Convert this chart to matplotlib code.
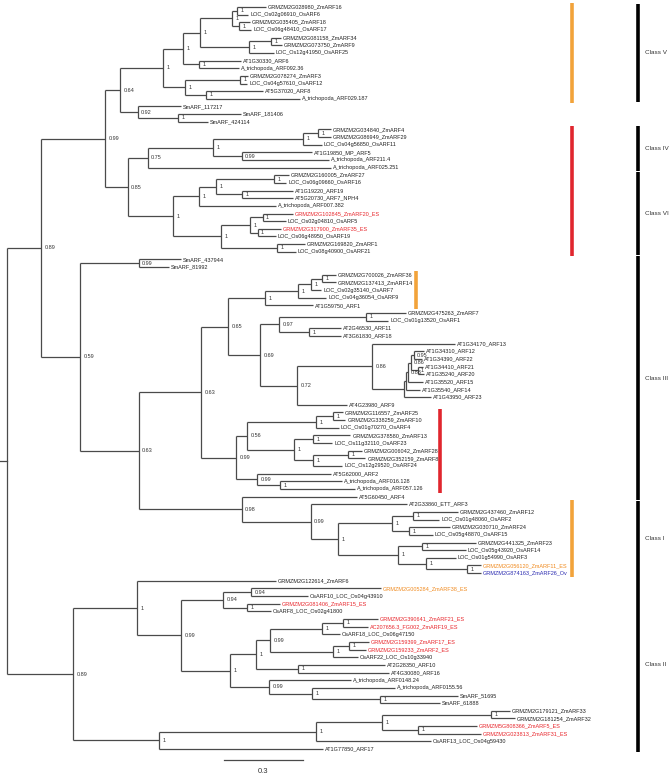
import re
import matplotlib.pyplot as plt

# ---- tree data (Newick pieces, branch lengths in substitutions/site, node labels = support) ----
CLASS_V = ("(((((GRMZM2G028980_ZmARF16:0.110,LOC_Os02g06910_OsARF6:0.042)1:0.019,"
           "(GRMZM2G035405_ZmARF18:0.042,LOC_Os06g48410_OsARF17:0.046)1:0.027)1:0.122,"
           "((GRMZM2G081158_ZmARF34:0.038,GRMZM2G073750_ZmARF9:0.042)1:0.084,"
           "LOC_Os12g41950_OsARF25:0.095)1:0.186)1:0.065,"
           "(AT1G30330_ARF6:0.160,A_trichopoda_ARF092.36:0.152)1:0.061)1:0.076,"
           "((GRMZM2G078274_ZmARF3:0.030,LOC_Os04g57610_OsARF12:0.027)1:0.209,"
           "(AT5G37020_ARF8:0.217,A_trichopoda_ARF029.187:0.357)1:0.080)1:0.084)1")
SM_A = "(SmARF_117217:0.163,(SmARF_181406:0.239,SmARF_424114:0.114)1:0.152)0.92"
CLASS_IV = ("((((GRMZM2G034840_ZmARF4:0.049,GRMZM2G086949_ZmARF29:0.049)1:0.057,"
            "LOC_Os04g56850_OsARF11:0.072)1:0.342,"
            "(AT1G19850_MP_ARF5:0.266,A_trichopoda_ARF211.4:0.330)0.99:0.110)1:0.247,"
            "A_trichopoda_ARF025.251:0.695)0.75")
CLASS_VI = ("((((GRMZM2G160005_ZmARF27:0.057,LOC_Os06g09660_OsARF16:0.046)1:0.220,"
            "(AT1G19220_ARF19:0.194,AT5G20730_ARF7_NPH4:0.194)1:0.099)1:0.065,"
            "A_trichopoda_ARF007.382:0.292)1:0.099,"
            "(((GRMZM2G102845_ZmARF20_ES:0.114,LOC_Os02g04810_OsARF5:0.087)1:0.049,"
            "(GRMZM2G317900_ZmARF35_ES:0.087,LOC_Os06g48950_OsARF19:0.068)1:0.030)1:0.110,"
            "(GRMZM2G169820_ZmARF1:0.106,LOC_Os08g40900_OsARF21:0.072)1:0.213)1:0.182)1")
SM_B = "(SmARF_437944:0.160,SmARF_81992:0.114)0.99"
ARF1_CLADE = ("((((GRMZM2G700026_ZmARF36:0.053,GRMZM2G137413_ZmARF14:0.053)1:0.042,"
              "LOC_Os02g35140_OsARF7:0.038)1:0.049,LOC_Os04g36054_OsARF9:0.106)1:0.125,"
              "AT1G59750_ARF1:0.182)1")
ARF11_CLADE = ("(((GRMZM2G475263_ZmARF7:0.152,LOC_Os01g13520_OsARF1:0.084)1:0.330,"
               "(AT2G46530_ARF11:0.122,AT3G61830_ARF18:0.122)1:0.114)0.97:0.072,"
               "((AT1G34170_ARF13:0.315,(((((AT1G34310_ARF12:0.038,AT1G34390_ARF22:0.034)0.95:0.011,"
               "(AT1G34410_ARF21:0.019,AT1G35240_ARF20:0.023)1:0.027)0.86:0.011,"
               "AT1G35520_ARF15:0.057)0.88:0.008,AT1G35540_ARF14:0.053):0.008,"
               "AT1G43950_ARF23:0.106):0.118)0.86:0.285,AT4G23980_ARF9:0.190)0.72:0.141)0.69")
ARF2_CLADE = ("((((GRMZM2G116557_ZmARF25:0.038,GRMZM2G338259_ZmARF10:0.046)1:0.065,"
              "LOC_Os01g70270_OsARF4:0.087)1:0.262,"
              "((GRMZM2G378580_ZmARF13:0.141,LOC_Os11g32110_OsARF23:0.072)1:0.072,"
              "((GRMZM2G006042_ZmARF28:0.053,GRMZM2G352159_ZmARF8:0.065)1:0.133,"
              "LOC_Os12g29520_OsARF24:0.110)1:0.072)1:0.179)0.56:0.042,"
              "(AT5G62000_ARF2:0.281,(A_trichopoda_ARF016.128:0.235,"
              "A_trichopoda_ARF057.126:0.285)1:0.087)0.99:0.080)0.99")
CLASS_I = ("(AT5G60450_ARF4:0.437,(AT2G33860_ETT_ARF3:0.365,"
           "(((GRMZM2G437460_ZmARF12:0.171,LOC_Os01g48060_OsARF2:0.099)1:0.080,"
           "(GRMZM2G030710_ZmARF24:0.156,LOC_Os05g48870_OsARF15:0.091)1:0.065)1:0.205,"
           "((GRMZM2G441325_ZmARF23:0.205,LOC_Os05g43920_OsARF14:0.167)1:0.091,"
           "(LOC_Os01g54990_OsARF3:0.114,(GRMZM2G056120_ZmARF11_ES:0.053,"
           "GRMZM2G874163_ZmARF26_Ov:0.053)1:0.156)1:0.106)1:0.228)1:0.103)0.99:0.262)0.98")
CLASS_II = ("((GRMZM2G122614_ZmARF6:0.528,(((GRMZM2G005284_ZmARF38_ES:0.494,"
            "OsARF10_LOC_Os04g43910:0.217)0.94:0.106,(GRMZM2G081406_ZmARF15_ES:0.125,"
            "OsARF8_LOC_Os02g41800:0.091)1:0.091)0.94:0.160,"
            "(((((GRMZM2G390641_ZmARF21_ES:0.133,AC207656.3_FG002_ZmARF19_ES:0.095)1:0.080,"
            "OsARF18_LOC_Os06g47150:0.068)1:0.198,((GRMZM2G159399_ZmARF17_ES:0.076,"
            "GRMZM2G159233_ZmARF2_ES:0.065)1:0.061,OsARF22_LOC_Os10g33940:0.095)1:0.239)0.99:0.053,"
            "(AT2G28350_ARF10:0.330,AT4G30080_ARF16:0.346)1:0.160)1:0.099,"
            "(A_trichopoda_ARF0148.24:0.311,(A_trichopoda_ARF0155.56:0.315,"
            "(SmARF_51695:0.296,SmARF_61888:0.228)1:0.258)1:0.163)0.99:0.148)1:0.186)0.99:0.167)1:0.243,"
            "((((GRMZM2G179121_ZmARF33:0.072,GRMZM2G181254_ZmARF32:0.091)1:0.414,"
            "(GRMZM5G808366_ZmARF5_ES:0.224,GRMZM2G023813_ZmARF31_ES:0.239)1:0.137)1:0.251,"
            "OsARF13_LOC_Os04g59430:0.437)1:0.596,AT1G77850_ARF17:0.623)1:0.327)0.89")

UPPER = f"(({CLASS_V}:0.163,{SM_A}:0.068)0.64:0.057,({CLASS_IV}:0.076,{CLASS_VI}:0.171)0.85:0.087)0.99"
CLASS_III_MAIN = f"(({ARF1_CLADE}:0.141,{ARF11_CLADE}:0.122)0.65:0.103,{ARF2_CLADE}:0.133)0.63"
LOWER = f"({SM_B}:0.224,({CLASS_III_MAIN}:0.236,{CLASS_I}:0.391)0.63:0.224)0.59"
TREE = f"(({UPPER}:0.243,{LOWER}:0.148)0.89:0.129,{CLASS_II}:0.251);"

# label colours
RED_TIPS = ["GRMZM2G102845_ZmARF20_ES", "GRMZM2G317900_ZmARF35_ES", "GRMZM2G081406_ZmARF15_ES",
            "GRMZM2G390641_ZmARF21_ES", "AC207656.3_FG002_ZmARF19_ES", "GRMZM2G159399_ZmARF17_ES",
            "GRMZM2G159233_ZmARF2_ES", "GRMZM5G808366_ZmARF5_ES", "GRMZM2G023813_ZmARF31_ES"]
ORANGE_TIPS = ["GRMZM2G056120_ZmARF11_ES", "GRMZM2G005284_ZmARF38_ES"]
BLUE_TIPS = ["GRMZM2G874163_ZmARF26_Ov"]

# class brackets (first / last leaf)
CLASS_NAMES = ["Class V", "Class IV", "Class VI", "Class III", "Class I", "Class II"]
CLASS_FIRST = ["GRMZM2G028980_ZmARF16", "GRMZM2G034840_ZmARF4", "GRMZM2G160005_ZmARF27",
               "SmARF_437944", "AT2G33860_ETT_ARF3", "GRMZM2G122614_ZmARF6"]
CLASS_LAST = ["A_trichopoda_ARF029.187", "A_trichopoda_ARF025.251", "LOC_Os08g40900_OsARF21",
              "AT5G60450_ARF4", "GRMZM2G874163_ZmARF26_Ov", "AT1G77850_ARF17"]

# coloured marker bars (first / last leaf, colour)
MARK_FIRST = ["GRMZM2G028980_ZmARF16", "GRMZM2G034840_ZmARF4", "GRMZM2G160005_ZmARF27",
              "GRMZM2G700026_ZmARF36", "GRMZM2G116557_ZmARF25", "AT2G33860_ETT_ARF3"]
MARK_LAST = ["A_trichopoda_ARF029.187", "A_trichopoda_ARF025.251", "LOC_Os08g40900_OsARF21",
             "AT1G59750_ARF1", "A_trichopoda_ARF057.126", "GRMZM2G874163_ZmARF26_Ov"]
MARK_COLOR = ["#f2a33a", "#e0262e", "#e0262e", "#f2a33a", "#e0262e", "#f2a33a"]
MARK_XPOS = [0.855, 0.855, 0.855, 0.622, 0.658, 0.855]


def parse_newick(s):
    s = s.replace(" ", "").rstrip(";")
    pos = 0

    def node():
        nonlocal pos
        kids = []
        if s[pos] == "(":
            pos += 1
            while True:
                kids.append(node())
                if s[pos] == ",":
                    pos += 1
                    continue
                pos += 1  # ')'
                break
        name = re.match(r"[^:,()]*", s[pos:]).group(0)
        pos += len(name)
        length = 0.0
        if pos < len(s) and s[pos] == ":":
            m = re.match(r":([0-9.]+)", s[pos:])
            length = float(m.group(1))
            pos += len(m.group(0))
        return {"name": name, "len": length, "kids": kids}

    return node()


root = parse_newick(TREE)
leaves = []


def place(n, depth):
    n["x"] = depth + n["len"]
    if not n["kids"]:
        n["y"] = len(leaves)
        leaves.append(n)
    else:
        for k in n["kids"]:
            place(k, n["x"])
        n["y"] = (n["kids"][0]["y"] + n["kids"][-1]["y"]) / 2


place(root, 0.0)
leaf_y = {n["name"]: n["y"] for n in leaves}

fig = plt.figure(figsize=(6.69, 7.74), dpi=100)
ax = fig.add_axes([0, 0, 1, 1])
ax.set_xlim(-7 / 263.3, 662 / 263.3)
ax.set_ylim(767 / 7.65, -7 / 7.65)
ax.axis("off")

LINE = "#4a4a4a"
LW = 0.9
FONT = "Liberation Sans"


def draw(n):
    if not n["kids"]:
        name = n["name"]
        col = "#222222"
        if name in RED_TIPS:
            col = "#e8262c"
        elif name in ORANGE_TIPS:
            col = "#f08a1e"
        elif name in BLUE_TIPS:
            col = "#2a2ab0"
        ax.annotate(name, (n["x"], n["y"]), xytext=(1.4, 0), textcoords="offset points",
                    ha="left", va="center", fontsize=3.95, color=col, family=FONT)
        return
    ax.plot([n["x"], n["x"]], [n["kids"][0]["y"], n["kids"][-1]["y"]], color=LINE, lw=LW,
            solid_capstyle="butt")
    for k in n["kids"]:
        ax.plot([n["x"], k["x"]], [k["y"], k["y"]], color=LINE, lw=LW, solid_capstyle="butt")
        draw(k)
    if n["name"] and n is not root:
        ax.annotate(n["name"], (n["x"], n["y"]), xytext=(2.4, 0), textcoords="offset points",
                    ha="left", va="center", fontsize=4.0, color="#333333", family=FONT)


draw(root)
# root stub
ax.plot([-7 / 263.3, 0], [root["y"], root["y"]], color=LINE, lw=LW)

# coloured marker bars
tr = ax.get_yaxis_transform()
for f, l, c, xp in zip(MARK_FIRST, MARK_LAST, MARK_COLOR, MARK_XPOS):
    ax.plot([xp, xp], [leaf_y[f] - 0.5, leaf_y[l] + 0.5], color=c, lw=2.6, transform=tr,
            solid_capstyle="butt")

# class brackets
for name, f, l in zip(CLASS_NAMES, CLASS_FIRST, CLASS_LAST):
    y0, y1 = leaf_y[f] - 0.45, leaf_y[l] + 0.45
    ax.plot([0.954, 0.954], [y0, y1], color="black", lw=2.6, transform=tr, solid_capstyle="butt")
    ax.text(0.964, (y0 + y1) / 2, name, transform=tr, ha="left", va="center",
            fontsize=4.6, color="#333333", family=FONT)

# scale bar
sb_x0 = 217 / 263.3
ax.plot([sb_x0, sb_x0 + 0.3], [98.4, 98.4], color=LINE, lw=LW)
ax.text(sb_x0 + 0.15, 99.9, "0.3", ha="center", va="center", fontsize=5.5,
        color="#333333", family=FONT)

fig.savefig("out.png", dpi=100)
